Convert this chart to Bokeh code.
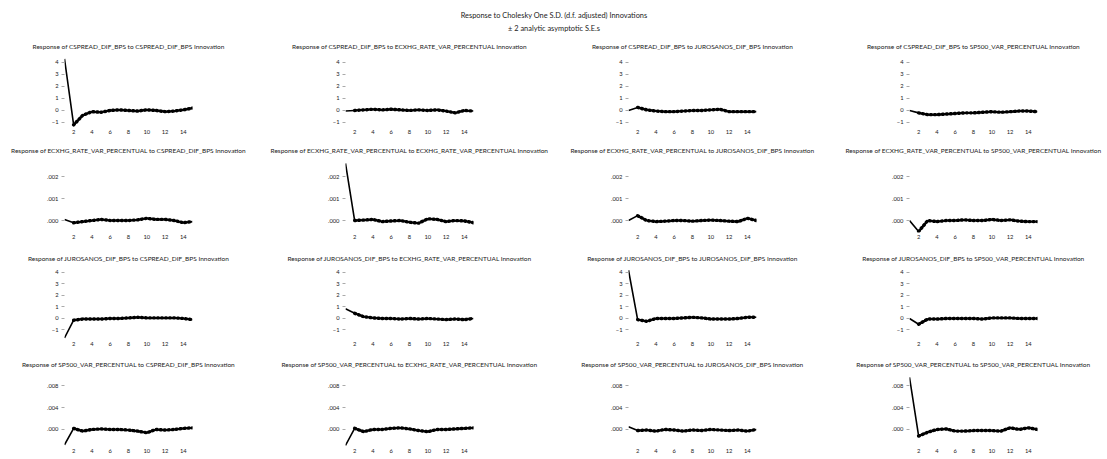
from bokeh.plotting import figure
from bokeh.layouts import column, gridplot
from bokeh.models import Range1d, FixedTicker, Title, CustomJSTickFormatter
from bokeh.embed import file_html
from bokeh.resources import INLINE

main_title = "Response to Cholesky One S.D. (d.f. adjusted) Innovations"
sub_title = "\u00b1 2 analytic asymptotic S.E.s"

periods = list(range(1, 16))
x_ticks = [2, 4, 6, 8, 10, 12, 14]
variables = ["CSPREAD_DIF_BPS", "ECXHG_RATE_VAR_PERCENTUAL",
             "JUROSANOS_DIF_BPS", "SP500_VAR_PERCENTUAL"]

# Row 1: response of CSPREAD_DIF_BPS
cspread_to_cspread = [4.3, -1.2, -0.4, -0.1, -0.15, 0.0, 0.05, 0.0, -0.05, 0.05, 0.0, -0.1, -0.05, 0.05, 0.2]
cspread_to_ecxhg = [-0.05, 0.0, 0.05, 0.1, 0.05, 0.1, 0.05, 0.0, 0.05, 0.0, 0.05, -0.05, -0.2, 0.0, -0.05]
cspread_to_juros = [0.0, 0.25, 0.05, -0.05, -0.1, -0.1, -0.05, 0.0, 0.0, 0.05, 0.1, -0.1, -0.1, -0.1, -0.1]
cspread_to_sp500 = [0.0, -0.2, -0.35, -0.35, -0.3, -0.25, -0.2, -0.2, -0.15, -0.1, -0.15, -0.1, -0.05, -0.05, -0.1]

# Row 2: response of ECXHG_RATE_VAR_PERCENTUAL
ecxhg_to_cspread = [0.00005, -0.0001, -0.00005, 0.0, 0.00005, 0.0, 0.0, 0.0, 0.00003, 0.0001, 0.00005, 0.00005, 0.0, -0.0001, -0.00005]
ecxhg_to_ecxhg = [0.0026, 0.0, 0.00002, 0.00005, -0.00005, -0.00002, 0.0, -0.00008, -0.00012, 0.00008, 0.00005, -0.00005, 0.0, -0.00002, -0.0001]
ecxhg_to_juros = [0.0, 0.00022, 0.0, -0.00005, -0.00003, 0.0, 0.0, -0.00003, 0.0, 0.00002, 0.0, -0.00003, -0.00005, 0.0001, 0.0]
ecxhg_to_sp500 = [0.0, -0.0005, 0.0, -0.00005, 0.0, 0.0, 0.00003, 0.0, 0.0, 0.00005, 0.0, 0.00003, -0.00003, -0.00005, -0.00005]

# Row 3: response of JUROSANOS_DIF_BPS
juros_to_cspread = [-1.7, -0.15, -0.05, -0.05, -0.05, 0.0, 0.0, 0.05, 0.1, 0.05, 0.05, 0.05, 0.05, 0.0, -0.1]
juros_to_ecxhg = [0.85, 0.45, 0.15, 0.05, 0.0, 0.0, -0.05, 0.0, -0.05, 0.0, -0.05, -0.1, -0.05, -0.1, 0.0]
juros_to_juros = [4.2, -0.1, -0.25, 0.0, 0.0, 0.0, 0.05, 0.1, 0.05, -0.05, -0.05, -0.05, 0.0, 0.1, 0.1]
juros_to_sp500 = [0.0, -0.5, -0.05, -0.05, 0.0, 0.0, 0.0, 0.0, -0.05, 0.05, 0.05, 0.05, 0.0, 0.0, 0.0]

# Row 4: response of SP500_VAR_PERCENTUAL
sp500_to_cspread = [-0.0028, 0.0002, -0.0003, 0.0, 0.0001, 0.0, 0.0, -0.0001, -0.0003, -0.0006, 0.0, -0.0001, 0.0, 0.0002, 0.0003]
sp500_to_ecxhg = [-0.0029, 0.0002, -0.0004, 0.0, 0.0, 0.0002, 0.0003, 0.0001, -0.0002, -0.0004, 0.0, 0.0, 0.0001, 0.0002, 0.0003]
sp500_to_juros = [0.0005, -0.0002, -0.0001, -0.0003, 0.0, -0.0001, -0.0003, -0.0001, -0.0002, 0.0, -0.0001, -0.0002, -0.0001, -0.0003, 0.0]
sp500_to_sp500 = [0.0095, -0.0012, -0.0005, 0.0, 0.0001, -0.0003, -0.0003, -0.0002, -0.0002, -0.0002, -0.0003, 0.0003, 0.0, 0.0003, 0.0]

responses = [
    [cspread_to_cspread, cspread_to_ecxhg, cspread_to_juros, cspread_to_sp500],
    [ecxhg_to_cspread, ecxhg_to_ecxhg, ecxhg_to_juros, ecxhg_to_sp500],
    [juros_to_cspread, juros_to_ecxhg, juros_to_juros, juros_to_sp500],
    [sp500_to_cspread, sp500_to_ecxhg, sp500_to_juros, sp500_to_sp500],
]

y_ticks_rows = [
    [-1, 0, 1, 2, 3, 4],
    [0.0, 0.001, 0.002],
    [-1, 0, 1, 2, 3, 4],
    [0.0, 0.004, 0.008],
]
y_ranges_rows = [(-1.42, 5.0), (-0.000545, 0.0030), (-1.83, 4.87), (-0.0031, 0.0111)]
decimal_rows = [False, True, False, True]

# layout
FONT = "Lato"
TEXT_COLOR = "#222222"
header_height = 38
row_heights = [104, 108, 106, 103]
row_bottom = [15, 18, 17, 13]
col_widths = [268, 282, 282, 275]
left_b = [64, 77, 78, 77]
frame_w = 128

dec_formatter = CustomJSTickFormatter(
    code="var s = Math.abs(tick) < 1e-12 ? '0.000' : tick.toFixed(3); return s.replace(/^(-?)0\\./, '$1.');")


def make_panel(i, j):
    w = col_widths[j]
    h = row_heights[i]
    p = figure(width=w, height=h, output_backend="svg", toolbar_location=None,
               x_range=Range1d(1, 15), y_range=Range1d(*y_ranges_rows[i]),
               min_border_left=left_b[j], min_border_right=w - left_b[j] - frame_w,
               min_border_top=12, min_border_bottom=row_bottom[i])
    p.title.text = f"Response of {variables[i]} to {variables[j]} Innovation"
    p.title.text_font = FONT
    p.title.text_font_size = "6.5px"
    p.title.text_font_style = "normal"
    p.title.text_color = TEXT_COLOR
    p.title.align = "center"
    p.title.standoff = 1
    p.outline_line_color = None
    p.xgrid.grid_line_color = None
    p.ygrid.grid_line_color = None
    p.background_fill_color = "white"
    p.border_fill_color = "white"

    xa = p.xaxis[0]
    xa.ticker = FixedTicker(ticks=x_ticks)
    xa.axis_line_color = None
    xa.major_tick_line_color = None
    xa.major_tick_out = 0
    xa.major_tick_in = 0
    xa.minor_tick_line_color = None
    xa.major_label_text_font = FONT
    xa.major_label_text_font_size = "5.8px"
    xa.major_label_text_color = TEXT_COLOR
    xa.major_label_standoff = 2

    ya = p.yaxis[0]
    ya.ticker = FixedTicker(ticks=y_ticks_rows[i])
    if decimal_rows[i]:
        ya.formatter = dec_formatter
    ya.axis_line_color = None
    ya.major_tick_line_color = "#aaaaaa"
    ya.major_tick_out = 3
    ya.major_tick_in = 0
    ya.minor_tick_line_color = None
    ya.major_label_text_font = FONT
    ya.major_label_text_font_size = "5.8px"
    ya.major_label_text_color = TEXT_COLOR
    ya.major_label_standoff = 3

    vals = responses[i][j]
    p.line(periods, vals, line_color="black", line_width=1.6)
    p.line(periods[1:], vals[1:], line_color="black", line_width=3.4,
           line_dash="1 3", line_cap="round")
    return p


header = figure(width=sum(col_widths), height=header_height, output_backend="svg",
                toolbar_location=None, x_axis_location=None, y_axis_location=None,
                min_border_top=33, min_border_bottom=0, min_border_left=0, min_border_right=0)
header.outline_line_color = None
header.xgrid.grid_line_color = None
header.ygrid.grid_line_color = None
header.title.text = main_title
header.title.text_font = FONT
header.title.text_font_size = "7.4px"
header.title.text_font_style = "normal"
header.title.text_color = TEXT_COLOR
header.title.align = "center"
header.title.standoff = 2
t2 = Title(text=sub_title, align="center", text_font=FONT, text_font_size="7.4px",
           text_font_style="normal", text_color=TEXT_COLOR, standoff=2)
header.add_layout(t2, "above")

panels = [[make_panel(i, j) for j in range(4)] for i in range(4)]
grid = gridplot(panels, toolbar_location=None)
layout = column(header, grid)

open("out.html", "w").write(file_html(layout, INLINE))
